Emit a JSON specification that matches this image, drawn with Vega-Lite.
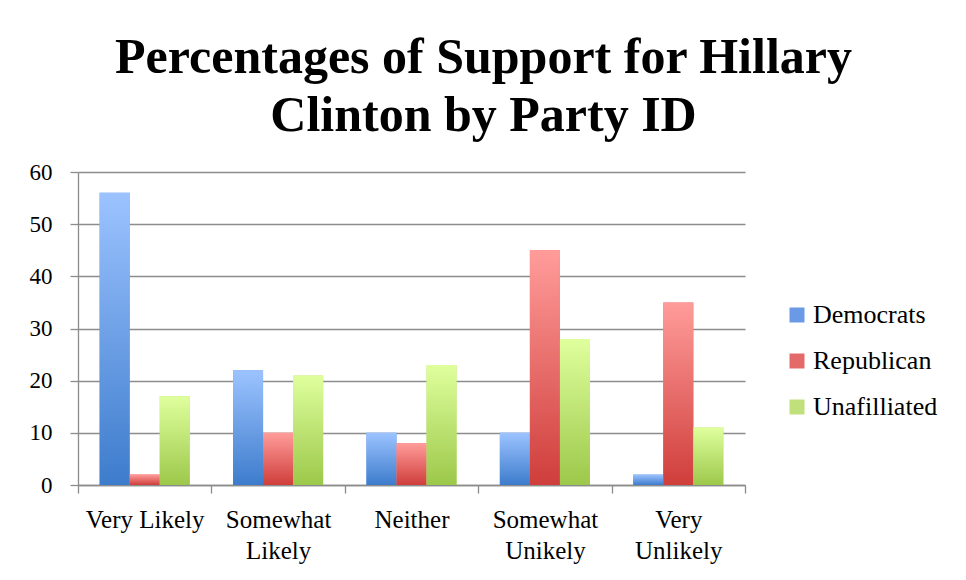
{
  "$schema": "https://vega.github.io/schema/vega-lite/v6.json",
  "autosize": "none",
  "width": 667,
  "height": 313,
  "padding": {"left": 78, "top": 172, "right": 221, "bottom": 95},
  "background": "white",
  "title": {
    "text": ["Percentages of Support for Hillary", "Clinton by Party ID"],
    "font": "Liberation Serif",
    "fontSize": 50,
    "fontWeight": "bold",
    "color": "#000000",
    "anchor": "middle",
    "frame": "bounds",
    "lineHeight": 58,
    "offset": 20
  },
  "data": {
    "values": [
      {"response": "Very Likely", "party": "Democrats", "pct": 56},
      {"response": "Very Likely", "party": "Republican", "pct": 2},
      {"response": "Very Likely", "party": "Unafilliated", "pct": 17},
      {"response": "Somewhat Likely", "party": "Democrats", "pct": 22},
      {"response": "Somewhat Likely", "party": "Republican", "pct": 10},
      {"response": "Somewhat Likely", "party": "Unafilliated", "pct": 21},
      {"response": "Neither", "party": "Democrats", "pct": 10},
      {"response": "Neither", "party": "Republican", "pct": 8},
      {"response": "Neither", "party": "Unafilliated", "pct": 23},
      {"response": "Somewhat Unikely", "party": "Democrats", "pct": 10},
      {"response": "Somewhat Unikely", "party": "Republican", "pct": 45},
      {"response": "Somewhat Unikely", "party": "Unafilliated", "pct": 28},
      {"response": "Very Unlikely", "party": "Democrats", "pct": 2},
      {"response": "Very Unlikely", "party": "Republican", "pct": 35},
      {"response": "Very Unlikely", "party": "Unafilliated", "pct": 11}
    ]
  },
  "encoding": {
    "x": {
      "field": "response",
      "type": "nominal",
      "sort": ["Very Likely", "Somewhat Likely", "Neither", "Somewhat Unikely", "Very Unlikely"],
      "scale": {"paddingInner": 0, "paddingOuter": 0},
      "axis": {
        "title": null,
        "labelAngle": 0,
        "labelFont": "Liberation Serif",
        "labelFontSize": 25,
        "labelColor": "#000000",
        "labelPadding": 14,
        "labelLineHeight": 31,
        "labelBaseline": "top",
        "tickBand": "extent",
        "tickSize": 8,
        "tickColor": "#8c8c8c",
        "tickWidth": 1.3,
        "domainColor": "#8c8c8c",
        "domainWidth": 1.3,
        "labelExpr": "datum.label == 'Very Likely' ? datum.label : split(datum.label, ' ')",
        "grid": false
      }
    },
    "xOffset": {
      "field": "party",
      "type": "nominal",
      "sort": ["Democrats", "Republican", "Unafilliated"],
      "scale": {"domain": ["Democrats", "Republican", "Unafilliated"], "paddingInner": 0, "paddingOuter": 0.72}
    },
    "y": {
      "field": "pct",
      "type": "quantitative",
      "scale": {"domain": [0, 60]},
      "axis": {
        "title": null,
        "values": [0, 10, 20, 30, 40, 50, 60],
        "labelFont": "Liberation Serif",
        "labelFontSize": 23,
        "labelColor": "#000000",
        "labelPadding": 18,
        "tickSize": 8,
        "tickColor": "#8c8c8c",
        "tickWidth": 1.3,
        "domainColor": "#8c8c8c",
        "domainWidth": 1.3,
        "grid": true,
        "gridColor": "#8c8c8c",
        "gridWidth": 1.3
      }
    }
  },
  "layer": [
    {
      "mark": {"type": "bar"},
      "encoding": {
        "color": {
          "field": "party",
          "type": "nominal",
          "scale": {"domain": ["Democrats", "Republican", "Unafilliated"], "range": ["#6a9ae6", "#e46a6a", "#bfe07a"]},
          "legend": {
            "title": null,
            "orient": "none",
            "legendX": 706,
            "legendY": 130,
            "padding": 0,
            "symbolType": "square",
            "symbolSize": 225,
            "symbolStrokeWidth": 0,
            "labelFont": "Liberation Serif",
            "labelFontSize": 26,
            "labelColor": "#000000",
            "labelOffset": 3,
            "rowPadding": 20
          }
        }
      }
    },
    {
      "transform": [{"filter": "datum.party == 'Democrats'"}],
      "mark": {
        "type": "bar",
        "color": {"gradient": "linear", "x1": 0, "y1": 0, "x2": 0, "y2": 1,
          "stops": [{"offset": 0, "color": "#9cc3ff"}, {"offset": 1, "color": "#3d7ccc"}]}
      }
    },
    {
      "transform": [{"filter": "datum.party == 'Republican'"}],
      "mark": {
        "type": "bar",
        "color": {"gradient": "linear", "x1": 0, "y1": 0, "x2": 0, "y2": 1,
          "stops": [{"offset": 0, "color": "#ff9c9a"}, {"offset": 1, "color": "#cf3e3b"}]}
      }
    },
    {
      "transform": [{"filter": "datum.party == 'Unafilliated'"}],
      "mark": {
        "type": "bar",
        "color": {"gradient": "linear", "x1": 0, "y1": 0, "x2": 0, "y2": 1,
          "stops": [{"offset": 0, "color": "#dfff9d"}, {"offset": 1, "color": "#9cc84a"}]}
      }
    }
  ],
  "config": {"view": {"stroke": null}}
}
